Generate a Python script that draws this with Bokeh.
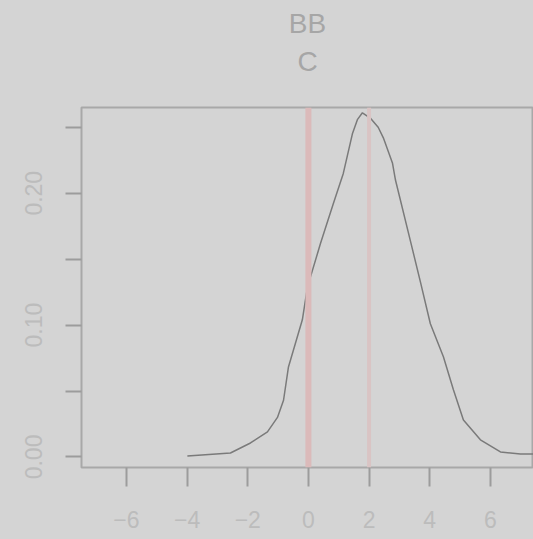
from bokeh.plotting import figure
from bokeh.models import FixedTicker, Span, Title
from bokeh.embed import file_html
from bokeh.resources import INLINE

# density curve
dens_x = [-3.99, -2.57, -1.91, -1.35, -1.02, -0.82, -0.66, -0.43, -0.20, -0.03,
          0.40, 0.82, 1.15, 1.45, 1.62, 1.78, 2.04, 2.30, 2.47, 2.77, 2.87, 3.36, 3.69,
          4.02, 4.45, 4.78, 5.11, 5.67, 6.33, 6.99, 7.42]
dens_y = [0.0008, 0.003, 0.0106, 0.019, 0.030, 0.043, 0.068, 0.086, 0.104, 0.129,
          0.162, 0.192, 0.215, 0.245, 0.256, 0.261, 0.257, 0.250, 0.242, 0.223, 0.210,
          0.164, 0.133, 0.101, 0.076, 0.051, 0.028, 0.013, 0.0038, 0.0023, 0.0023]

vlines = [0, 2]
x_ticks = [-6, -4, -2, 0, 2, 4, 6]
x_tick_labels = ["\u22126", "\u22124", "\u22122", "0", "2", "4", "6"]
y_ticks = [0.0, 0.05, 0.10, 0.15, 0.20, 0.25]
y_tick_labels = ["0.00", "", "0.10", "", "0.20", ""]
title_lines = ["BB", "C"]

BG = "#d4d4d4"

p = figure(width=533, height=539, output_backend="svg", toolbar_location=None,
           x_range=(-7.48, 7.42), y_range=(-0.0080, 0.265),
           min_border_left=81, min_border_right=0, min_border_top=107,
           min_border_bottom=72)
p.background_fill_color = BG
p.border_fill_color = BG
p.outline_line_color = "#a8a8a8"
p.outline_line_width = 2
p.grid.visible = False

# axes
p.xaxis.ticker = FixedTicker(ticks=x_ticks)
p.xaxis.major_label_overrides = {t: l for t, l in zip(x_ticks, x_tick_labels)}
p.yaxis.ticker = FixedTicker(ticks=y_ticks)
p.yaxis.major_label_overrides = {t: l for t, l in zip(y_ticks, y_tick_labels)}
for ax in (p.xaxis, p.yaxis):
    ax.axis_line_color = None
    ax.minor_tick_line_color = None
    ax.major_tick_in = 0
    ax.major_tick_line_color = "#9c9c9c"
    ax.major_tick_line_width = 2
    ax.major_label_text_color = "#bcbcbc"
    ax.major_label_text_font = "Liberation Sans"
    ax.major_label_text_font_size = "23px"
p.xaxis.major_tick_out = 19
p.xaxis.major_label_standoff = 24
p.yaxis.major_tick_out = 16
p.yaxis.major_label_standoff = 23
p.yaxis.major_label_orientation = "vertical"

# vertical reference lines
p.add_layout(Span(location=vlines[0], dimension="height", line_color="#dbbaba", line_width=6))
p.add_layout(Span(location=vlines[1], dimension="height", line_color="#d9c4c4", line_width=4))

p.line(dens_x, dens_y, line_color="#7a7a7a", line_width=1.5)

# spacer between frame and title lines (invisible blank text)
p.add_layout(Title(text=" ", text_font_size="1px", standoff=28), "above")
# two-line title (C nearest the frame, BB above it)
p.add_layout(Title(text=title_lines[1], align="center", text_color="#a6a6a6",
                   text_font="Liberation Sans", text_font_size="28px",
                   text_font_style="normal", standoff=0), "above")
p.add_layout(Title(text=title_lines[0], align="center", text_color="#a6a6a6",
                   text_font="Liberation Sans", text_font_size="28px",
                   text_font_style="normal", standoff=9), "above")

html = file_html(p, INLINE)
html = html.replace("<head>", "<head><style>html,body{background:%s;}</style>" % BG, 1)
open("out.html", "w").write(html)
